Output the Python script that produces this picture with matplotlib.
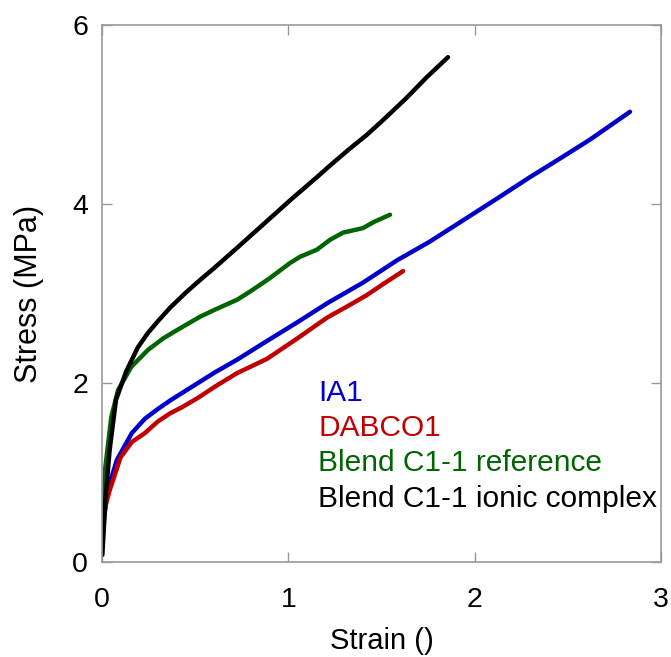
import matplotlib
matplotlib.use("Agg")
import matplotlib.pyplot as plt

plt.rcParams["font.family"] = ["Liberation Sans", "DejaVu Sans"]

# === 데이터 ===
ia1_strain = [0.0, 0.012, 0.03, 0.08, 0.16, 0.23, 0.30, 0.37, 0.50, 0.607, 0.725, 0.886,
              1.05, 1.208, 1.40, 1.583, 1.76, 1.94, 2.12, 2.297, 2.46, 2.62, 2.834]
ia1_stress = [0.17, 0.50, 0.80, 1.14, 1.44, 1.60, 1.71, 1.81, 1.98, 2.12, 2.26, 2.47,
              2.68, 2.89, 3.12, 3.37, 3.58, 3.82, 4.06, 4.30, 4.51, 4.72, 5.03]

dabco_strain = [0.0, 0.015, 0.041, 0.10, 0.16, 0.23, 0.30, 0.365, 0.43, 0.52, 0.607, 0.725,
                0.886, 1.05, 1.208, 1.32, 1.42, 1.52, 1.616]
dabco_stress = [0.34, 0.60, 0.80, 1.17, 1.34, 1.44, 1.57, 1.66, 1.73, 1.84, 1.96, 2.11,
                2.27, 2.50, 2.73, 2.86, 2.98, 3.12, 3.25]

ref_strain = [0.0, 0.018, 0.05, 0.086, 0.157, 0.247, 0.33, 0.41, 0.526, 0.607, 0.725, 0.794,
              0.90, 1.009, 1.063, 1.154, 1.224, 1.294, 1.40, 1.46, 1.546]
ref_stress = [0.44, 1.06, 1.62, 1.92, 2.18, 2.37, 2.50, 2.60, 2.74, 2.82, 2.93, 3.02,
              3.17, 3.34, 3.41, 3.49, 3.60, 3.68, 3.73, 3.80, 3.88]

ionic_strain = [0.002, 0.018, 0.041, 0.075, 0.13, 0.193, 0.247, 0.30, 0.365, 0.45, 0.526, 0.60,
                0.725, 0.886, 1.02, 1.154, 1.224, 1.331, 1.42, 1.51, 1.637, 1.74, 1.857]
ionic_stress = [0.08, 0.69, 1.25, 1.81, 2.13, 2.40, 2.56, 2.69, 2.84, 3.01, 3.15, 3.28,
                3.51, 3.81, 4.06, 4.30, 4.43, 4.62, 4.77, 4.94, 5.19, 5.41, 5.64]

series = [
    ("IA1", ia1_strain, ia1_stress, "#0000C8"),
    ("DABCO1", dabco_strain, dabco_stress, "#C00000"),
    ("Blend C1-1 reference", ref_strain, ref_stress, "#006400"),
    ("Blend C1-1 ionic complex", ionic_strain, ionic_stress, "black"),
]

fig = plt.figure(figsize=(6.71, 6.57), dpi=100)
ax = fig.add_axes([0.152, 0.1446, 0.833, 0.8174])

for name, xs, ys, c in series:
    ax.plot(xs, ys, color=c, lw=3.2, solid_capstyle="round", solid_joinstyle="round")

ax.set_xlim(0, 3)
ax.set_ylim(0, 6)
ax.set_xticks([0, 1, 2, 3])
ax.set_yticks([0, 2, 4, 6])
ax.tick_params(direction="in", length=7, width=1, color="#999999",
               labelsize=20.5, top=True, right=True)
ax.tick_params(axis="x", pad=18)
ax.tick_params(axis="y", pad=10)
for s in ax.spines.values():
    s.set_color("#999999")
    s.set_linewidth(1.2)

ax.set_xlabel("Strain ()", fontsize=21, labelpad=10)
ax.set_ylabel("Stress (MPa)", fontsize=22, labelpad=20)

# 곡선 라벨 (범례 대신 텍스트)
for i, (name, xs, ys, c) in enumerate(series):
    ax.text(1.16, 1.89 - i * 0.394, name, color=c, fontsize=21.5, va="center", ha="left")

fig.savefig("out.png", dpi=100)
